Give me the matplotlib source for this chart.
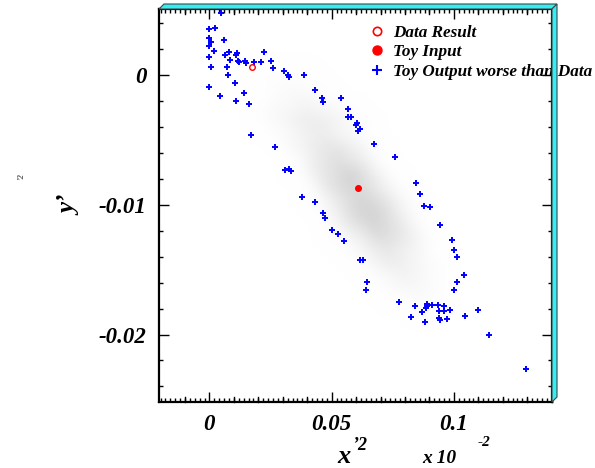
import numpy as np
import matplotlib
matplotlib.use("Agg")
import matplotlib.pyplot as plt
from matplotlib.colors import LinearSegmentedColormap
from matplotlib.lines import Line2D
from matplotlib.patches import Polygon

# --- data (axis units are x 10^-2) ---
data_result = (0.0174, 0.00064)
toy_input = (0.0606, -0.00873)

worse_x = [0.00479, -0.0001, 0.00233, -0.0001, 0.0007, -0.0001, 0.00602, 0.00192, -0.0001, 0.00643,
           0.00806, 0.00847, 0.01093, 0.01134, 0.0007, 0.00725, 0.01175, 0.01216, 0.01461, 0.01502,
           0.0183, 0.02116, 0.02239, 0.02526, 0.02607, 0.00765, 0.03058, 0.03221, 0.03262, 0.03876,
           0.01052, -0.0001, 0.0142, 0.00438, 0.01093, 0.01625, 0.04327, 0.04613, 0.04654, 0.05391,
           0.05649, 0.05649, 0.05772, 0.06034, 0.05993, 0.06058, 0.06169, 0.06713, 0.07573, 0.02702,
           0.03099, 0.03275, 0.03344, 0.08449, 0.01719, 0.03807, 0.04327, 0.04666, 0.04736, 0.0501,
           0.05256, 0.05501, 0.10016, 0.10127, 0.10397, 0.0614, 0.06263, 0.06427, 0.06414, 0.10127,
           0.10004, 0.07736, 0.08391, 0.08899, 0.08911, 0.0887, 0.09116, 0.09349, 0.09578, 0.09402,
           0.09595, 0.09824, 0.08244, 0.08707, 0.08829, 0.09374, 0.09443, 0.09718, 0.10438, 0.1097,
           0.11449, 0.12935, 0.08625, 0.08789, 0.09034, 0.09444, 0.09935]
worse_y = [0.00482, 0.00359, 0.00367, 0.00285, 0.00254, 0.00223, 0.00269, 0.0019, 0.00141, 0.00156,
           0.00177, 0.00118, 0.00159, 0.00167, 0.00064, 0.00064, 0.0011, 0.00105, 0.0011, 0.00095,
           0.00102, 0.00105, 0.00182, 0.00108, 0.00052, -0.00002, 0.00033, -0.00002, -0.00013, -0.00002,
           -0.00062, -0.00095, -0.00136, -0.00159, -0.00202, -0.00223, -0.00118, -0.00179, -0.00205, -0.00179,
           -0.00264, -0.00321, -0.00321, -0.00367, -0.00385, -0.00428, -0.00418, -0.00533, -0.00633, -0.00556,
           -0.00731, -0.00723, -0.00738, -0.00833, -0.00459, -0.00941, -0.00975, -0.01059, -0.011, -0.01195,
           -0.01223, -0.01282, -0.01346, -0.01402, -0.01541, -0.01428, -0.01425, -0.01595, -0.01656, -0.01598,
           -0.01654, -0.01746, -0.01777, -0.01762, -0.01782, -0.01798, -0.01772, -0.01772, -0.01782, -0.01815,
           -0.01815, -0.01808, -0.01867, -0.01825, -0.019, -0.01875, -0.01887, -0.01877, -0.01856, -0.0181,
           -0.02, -0.02267, -0.00915, -0.01008, -0.01015, -0.01154, -0.01269]

# toy output density (0..8), cells 0.005 x 0.001
cloud_extent = [-0.005, 0.115, -0.021, 0.003]
cloud_rows = [
    "000000000000000000000000",
    "000000000000000000000000",
    "000001111100000000000000",
    "000011222110000000000000",
    "000001233321000000000000",
    "000012334433210000000000",
    "000012345554321000000000",
    "000001234554321000000000",
    "000000134566542100000000",
    "000000013567653100000000",
    "000000012567875310000000",
    "000000001367876421000000",
    "000000001246787642100000",
    "000000000135788753100000",
    "000000000024678764200000",
    "000000000012457765310000",
    "000000000001245654310000",
    "000000000000124554321000",
    "000000000000012344321000",
    "000000000000001233321000",
    "000000000000000112211000",
    "000000000000000001110000",
    "000000000000000000000000",
    "000000000000000000000000",
]
cloud = np.array([[int(c) for c in r] for r in cloud_rows], dtype=float)

W, H = 595, 468
def fx(px): return px / W
def fy(py): return 1 - py / H

font = dict(family="Liberation Serif", weight="bold", style="italic")

fig = plt.figure(figsize=(W / 100, H / 100), dpi=100)
ax = fig.add_axes([fx(159.3), fy(402), fx(551.7) - fx(159.3), fy(9) - fy(402)])

gray = LinearSegmentedColormap.from_list("g", [(1, 1, 1, 0), (0.6, 0.6, 0.6, 0.42)])
ax.imshow(cloud, extent=cloud_extent, cmap=gray, vmin=0, vmax=8,
          interpolation="bicubic", aspect="auto", zorder=1)

ax.plot(worse_x, worse_y, "+", color="#0000ff", ms=4.5, mew=1.4, zorder=3)
ax.plot(*data_result, "o", mfc="none", mec="#ff0000", ms=4, mew=1.0, zorder=4)
ax.plot(*toy_input, "o", color="#ff0000", ms=4, zorder=4)

ax.set_xlim(-0.0205, 0.14)
ax.set_ylim(-0.0252, 0.0051)

ax.set_xticks([0, 0.05, 0.1])
ax.set_xticklabels(["0", "0.05", "0.1"])
ax.set_xticks(np.arange(-0.02, 0.1401, 0.002), minor=True)
ax.set_yticks([0, -0.01, -0.02])
ax.set_yticklabels(["0", "-0.01", "-0.02"])
ax.set_yticks(np.arange(-0.024, 0.0051, 0.002), minor=True)
ax.tick_params(which="both", direction="in", top=True, right=True, width=1, color="black")
ax.tick_params(which="major", length=7)
ax.tick_params(which="minor", length=3.2)
ax.tick_params(axis="x", which="major", pad=9)
ax.tick_params(axis="y", which="major", pad=9)
for lab in ax.get_xticklabels() + ax.get_yticklabels():
    lab.set_fontfamily("Liberation Serif")
    lab.set_fontweight("bold")
    lab.set_fontstyle("italic")
    lab.set_fontsize(16.5)

# secondary x divisions
mid = [v for v in np.arange(-0.01, 0.1401, 0.01) if abs(v / 0.05 - round(v / 0.05)) > 1e-6]
tr = ax.get_xaxis_transform()
for v in mid:
    ax.plot([v, v], [0, 0.012], color="black", lw=1, transform=tr, clip_on=False, zorder=5)
    ax.plot([v, v], [1, 0.988], color="black", lw=1, transform=tr, clip_on=False, zorder=5)

for s in ax.spines.values():
    s.set_linewidth(1.6)

# legend
handles = [
    Line2D([], [], ls="none", marker="o", mfc="none", mec="#ff0000", ms=6, mew=1.2),
    Line2D([], [], ls="none", marker="o", color="#ff0000", ms=6.5),
    Line2D([], [], ls="none", marker="+", color="#0000ff", ms=7, mew=1.5),
]
ax.legend(handles, ["Data Result", "Toy Input", "Toy Output worse than Data"],
          loc="upper left", bbox_to_anchor=(0.535, 0.96), frameon=False,
          prop=dict(family="Liberation Serif", weight="bold", style="italic", size=12.3),
          handlelength=0.9, handletextpad=0.5, labelspacing=0.2, borderpad=0, borderaxespad=0)

# axis titles
fig.text(fx(337), fy(463), "x", fontsize=19, ha="left", va="baseline", **font)
fig.text(fx(352), fy(450), "\u20192", fontsize=13, ha="left", va="baseline", **font)
fig.text(fx(422), fy(463), "x 10", fontsize=14, ha="left", va="baseline", **font)
fig.text(fx(478), fy(446), "-2", fontsize=11, ha="left", va="baseline", **font)
fig.text(fx(70), fy(205), "y\u2019", fontsize=18, rotation=90, ha="center", va="center", **font)
fig.text(fx(21), fy(176), "\u20192", fontsize=6, rotation=90, ha="center", va="center",
         color="#555555", **font)

# 3D frame border
cyan = "#2ff0f5"
top_bar = [(fx(159), fy(9)), (fx(164), fy(4)), (fx(557), fy(4)), (fx(552), fy(9))]
right_bar = [(fx(552), fy(9)), (fx(557), fy(4)), (fx(557), fy(397)), (fx(552), fy(402))]
for pts in (top_bar, right_bar):
    fig.add_artist(Polygon(pts, closed=True, transform=fig.transFigure,
                           facecolor=cyan, edgecolor="#444444", lw=0.8, zorder=10))

fig.savefig("out.png", dpi=100)
